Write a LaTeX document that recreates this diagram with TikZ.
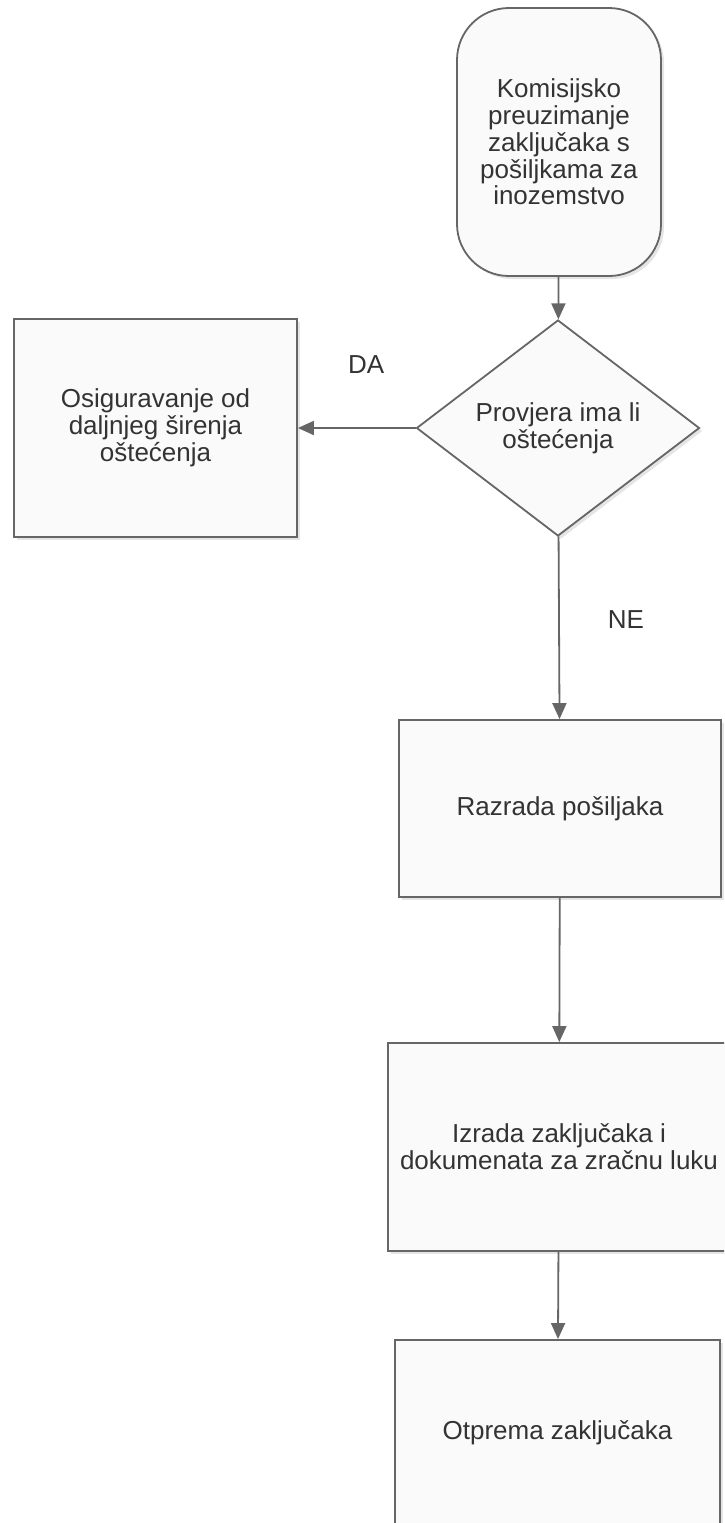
\documentclass[tikz,border=0pt]{standalone}
\usepackage{fontspec}
\setmainfont{Liberation Sans}
\usepackage{tikz}
\usetikzlibrary{%
  positioning,%
  shapes.geometric,%
  arrows.meta,%
  shadows%
}
\definecolor{linegray}{HTML}{666666}
\definecolor{textgray}{HTML}{333333}
\definecolor{boxfill}{HTML}{FAFAFA}

\begin{document}
\begin{tikzpicture}[x=0.5pt, y=-0.5pt,
	every node/.style={font=\fontsize{13}{13.4}\selectfont, text=textgray, align=center},
	box/.style={rectangle, draw=linegray, line width=0.9pt, fill=boxfill, inner sep=0pt,
		drop shadow={shadow xshift=1.5pt, shadow yshift=-1.5pt, fill=black!10, opacity=1}},
	flow/.style={draw=linegray, line width=0.9pt, -{Triangle[length=8pt,width=7pt]}},
	tag/.style={inner sep=0pt}]
\useasboundingbox (0,0) rectangle (724,1523);
\clip (0,0) rectangle (724,1523);

\node[box, rounded corners=26pt, minimum width=102pt, minimum height=134pt] (start) at (559,142)
	{Komisijsko\\preuzimanje\\zaključaka s\\pošiljkama za\\inozemstvo};
\node[box, diamond, minimum width=141.5pt, minimum height=108pt, aspect=1.3] (check) at (558,428)
	{Provjera ima li\\oštećenja};
\node[box, minimum width=141.5pt, minimum height=109pt] (secure) at (155.5,428)
	{Osiguravanje od\\daljnjeg širenja\\oštećenja};
\node[box, minimum width=161pt, minimum height=88.5pt] (sort) at (560,808.5)
	{Razrada pošiljaka};
\node[box, minimum width=171pt, minimum height=104pt] (docs) at (559,1147)
	{Izrada zaključaka i\\dokumenata za zračnu luku};
\node[box, minimum width=162.5pt, minimum height=93pt] (ship) at (557.5,1433)
	{Otprema zaključaka};

\draw
	(start) edge[flow] (check)
	(check) edge[flow] node[tag, pos=0.42, above=27pt] (da) {DA} (secure)
	(check) edge[flow] node[tag, pos=0.457, right=24pt] (ne) {NE} (sort)
	(sort) edge[flow] (docs)
	(docs) edge[flow] (ship)
;
\end{tikzpicture}
\end{document}
